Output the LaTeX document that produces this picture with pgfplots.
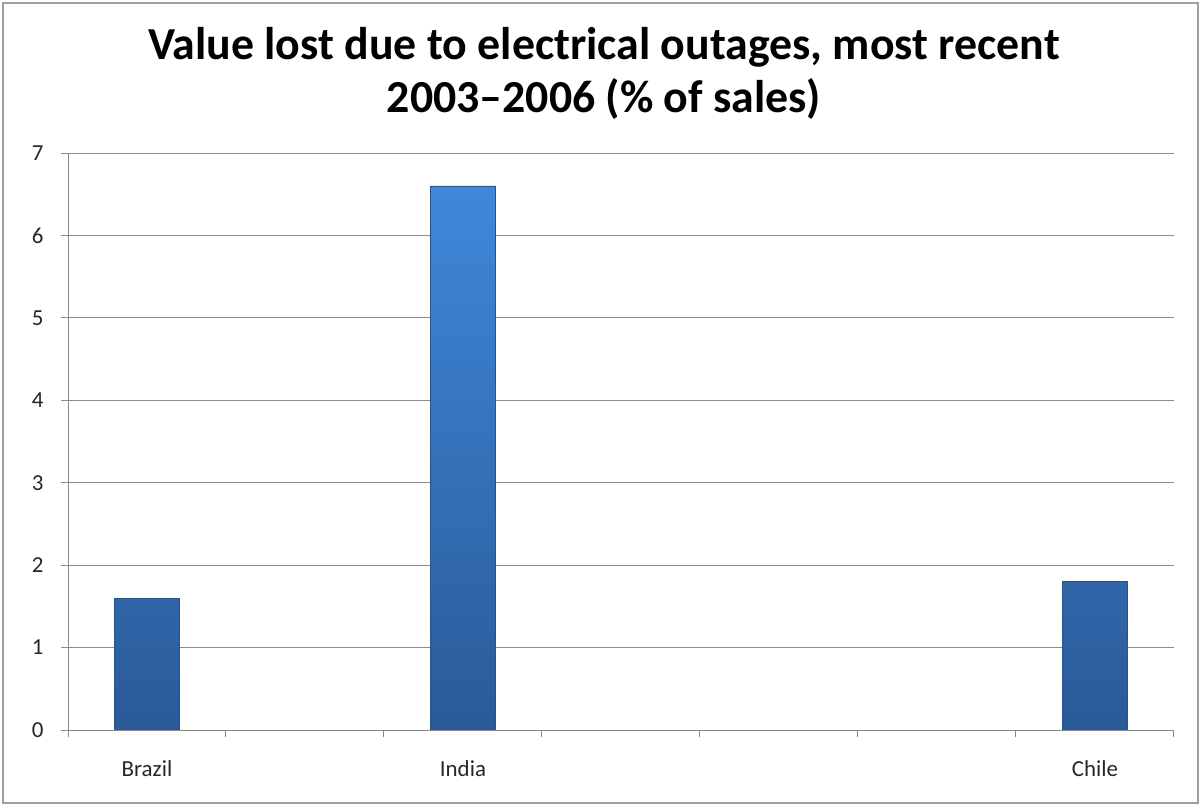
\documentclass[border=0pt]{standalone}
\usepackage{pgfplots}
\pgfplotsset{compat=1.18}
\usepackage{fontspec}
\setmainfont{Carlito}
\definecolor{bartop}{HTML}{3F88DA}
\definecolor{barbot}{HTML}{2A5A98}
\definecolor{baredge}{HTML}{27528A}
\definecolor{gridc}{HTML}{8C8C8C}
\definecolor{axisc}{HTML}{8A8A8A}
\begin{document}
\begin{tikzpicture}
\useasboundingbox (0bp,0bp) rectangle (1201bp,806bp);
\draw[gray!75, line width=1.5bp] (3bp,3bp) rectangle (1198bp,803bp);
\node[font=\bfseries\fontsize{46}{53}\selectfont, align=center] at (604bp,732.5bp)
  {Value lost due to electrical outages, most recent\\2003--2006 (\% of sales)};
\begin{axis}[
  at={(68bp,76bp)}, anchor=south west,
  scale only axis, width=1106bp, height=577bp,
  xmin=-0.5, xmax=6.5, ymin=0, ymax=7,
  axis x line*=bottom, axis y line*=left,
  axis line style={axisc, line width=1bp},
  ymajorgrids, grid style={gridc, line width=0.8bp},
  ytick={0,1,...,7},
  xtick={0,...,6},
  xticklabels={Brazil,,India,,,,Chile},
  minor xtick={-0.5,0.5,...,6.5},
  major x tick style={draw=none},
  minor x tick style={axisc, line width=1bp},
  minor tick length=7bp,
  major tick length=7bp,
  tick align=outside,
  ytick style={axisc, line width=1bp},
  /pgf/number format/assume math mode=true,
  tick label style={font=\fontsize{23}{28}\selectfont, text=black!85},
  xticklabel style={yshift=-20bp},
  yticklabel style={xshift=-14bp},
  ]
\addplot[ybar, bar width=65bp, draw=baredge, line width=0.8bp,
  top color=bartop, bottom color=barbot] coordinates {
  (0,1.6) (2,6.6) (6,1.8)
};
\end{axis}
\end{tikzpicture}
\end{document}
